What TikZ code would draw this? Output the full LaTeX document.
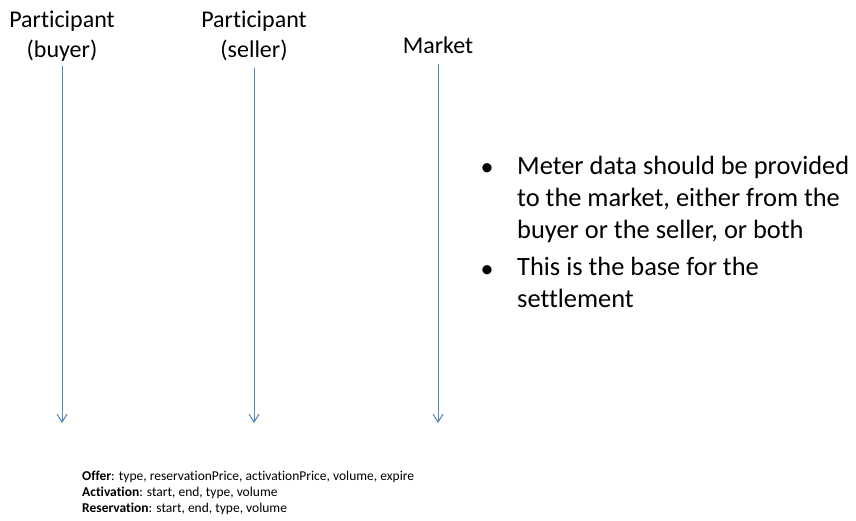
\documentclass[tikz,border=0pt]{standalone}
\usepackage{fontspec}
\setmainfont{Carlito}[Ligatures=NoCommon]
\usetikzlibrary{arrows.meta}
\definecolor{lineblue}{HTML}{4F81BD}
\tikzset{
  actor/.style={align=center, inner sep=0pt, font=\fontsize{24}{29.5}\selectfont},
  lifeline/.style={draw=lineblue, line width=1pt, -{Straight Barb[length=8pt,width=10pt]}},
  point/.style={align=left, inner sep=0pt, font=\fontsize{26.4}{31.7}\selectfont},
  dot/.style={inner sep=0pt, font=\fontsize{26}{31.7}\selectfont},
  msg/.style={align=left, inner sep=0pt, font=\fontsize{13.5}{15.5}\selectfont}
}
\begin{document}
\begin{tikzpicture}[x=1pt,y=-1pt]
\useasboundingbox (0,0) rectangle (856,520);
\node[actor, anchor=base] (buyer) at (62,57) {Participant\\(buyer)};
\node[actor, anchor=base] (seller) at (254,57) {Participant\\(seller)};
\node[actor, anchor=base] (market) at (438,53) {Market};
\coordinate (buyer top) at (62,66);
\coordinate (buyer end) at (62,423);
\coordinate (seller top) at (254,68);
\coordinate (seller end) at (254,423);
\coordinate (market top) at (438,64);
\coordinate (market end) at (438,423);
\draw[lifeline] (buyer top) -- (buyer end);
\draw[lifeline] (seller top) -- (seller end);
\draw[lifeline] (market top) -- (market end);
\node[dot, anchor=base] (dot1) at (487,175) {\textbullet};
\node[point, anchor=base west] (note1) at (517,238) {Meter data should be provided\\to the market, either from the\\buyer or the seller, or both};
\node[dot, anchor=base] (dot2) at (487,277) {\textbullet};
\node[point, anchor=base west] (note2) at (517,307) {This is the base for the\\settlement};
\node[msg, anchor=base west] (offer) at (82,480) {\textbf{Offer}: type, reservationPrice, activationPrice, volume, expire};
\node[msg, anchor=base west] (activation) at (82,496) {\textbf{Activation}: start, end, type, volume};
\node[msg, anchor=base west] (reservation) at (82,512) {\textbf{Reservation}: start, end, type, volume};
\end{tikzpicture}
\end{document}
